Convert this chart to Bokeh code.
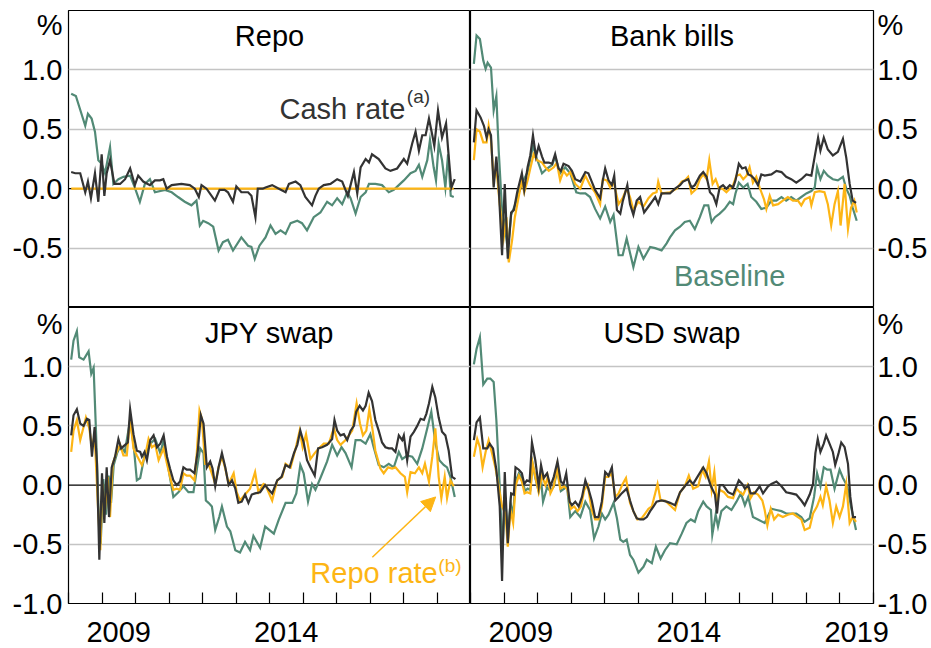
from bokeh.plotting import figure
from bokeh.layouts import gridplot
from bokeh.models import (Range1d, FixedTicker, NumeralTickFormatter, Label, Span,
                          Arrow, NormalHead)
from bokeh.embed import file_html
from bokeh.resources import INLINE

# ---------------- data (spread to benchmark, percentage points) ----------------
years_labels_left = {2009.5: "2009", 2014.5: "2014"}
years_labels_right = {2009.5: "2009", 2014.5: "2014", 2019.5: "2019"}
year_ticks = list(range(2008, 2021))
y_ticks_top = [-0.5, 0.0, 0.5, 1.0]
y_ticks_bottom = [-1.0, -0.5, 0.0, 0.5, 1.0]
grid_ticks = [-0.5, 0.5, 1.0]
titles = ["Repo", "Bank bills", "JPY swap", "USD swap"]

# Repo panel
repo_base = [(2008.08, 0.80), (2008.22, 0.78), (2008.50, 0.53), (2008.58, 0.63), (2008.69, 0.59),
             (2008.79, 0.48), (2008.89, 0.24), (2008.99, 0.21), (2009.09, 0.13), (2009.24, 0.35),
             (2009.34, 0.04), (2009.49, 0.08), (2009.64, 0.10), (2009.84, 0.11), (2009.98, 0.01),
             (2010.13, -0.11), (2010.28, 0.04), (2010.43, 0.08), (2010.58, -0.03), (2010.88, -0.01),
             (2011.08, -0.03), (2011.27, -0.07), (2011.47, -0.11), (2011.67, -0.14), (2011.82, -0.10),
             (2011.92, -0.31), (2012.02, -0.27), (2012.17, -0.29), (2012.32, -0.32), (2012.48, -0.52),
             (2012.61, -0.45), (2012.76, -0.43), (2012.91, -0.52), (2013.16, -0.41), (2013.36, -0.48),
             (2013.46, -0.49), (2013.56, -0.59), (2013.70, -0.48), (2013.88, -0.41), (2014.03, -0.31),
             (2014.18, -0.38), (2014.33, -0.35), (2014.48, -0.38), (2014.63, -0.29), (2014.83, -0.27),
             (2014.97, -0.29), (2015.12, -0.35), (2015.32, -0.24), (2015.52, -0.20), (2015.72, -0.11),
             (2015.87, -0.14), (2016.02, -0.08), (2016.17, -0.13), (2016.32, -0.03), (2016.42, -0.08),
             (2016.57, -0.21), (2016.72, -0.07), (2016.87, -0.03), (2016.97, 0.04), (2017.16, 0.04),
             (2017.36, 0.03), (2017.56, -0.03), (2017.71, -0.01), (2017.86, 0.03), (2018.01, 0.07),
             (2018.21, 0.13), (2018.36, 0.15), (2018.46, 0.20), (2018.56, 0.10), (2018.71, 0.24),
             (2018.79, 0.41), (2018.90, 0.18), (2018.97, 0.07), (2019.05, 0.38), (2019.15, 0.24),
             (2019.25, 0.01), (2019.33, 0.29), (2019.41, -0.06), (2019.50, -0.07)]
repo_repo = [(2008.08, 0.0), (2019.50, 0.0)]
repo_cash = [(2008.08, 0.14), (2008.20, 0.13), (2008.35, 0.13), (2008.50, -0.03), (2008.58, 0.06),
             (2008.67, -0.08), (2008.79, 0.13), (2008.89, -0.11), (2008.99, 0.29), (2009.07, -0.06),
             (2009.14, 0.13), (2009.24, 0.24), (2009.37, 0.04), (2009.54, 0.04), (2009.69, 0.08),
             (2009.84, 0.17), (2009.98, 0.03), (2010.08, 0.11), (2010.23, 0.06), (2010.43, 0.03),
             (2010.58, 0.07), (2010.73, 0.07), (2010.83, 0.08), (2010.93, 0.00), (2011.08, 0.03),
             (2011.37, 0.04), (2011.62, 0.03), (2011.77, 0.00), (2011.89, -0.07), (2011.97, 0.03),
             (2012.12, 0.00), (2012.37, -0.10), (2012.51, -0.01), (2012.66, -0.01), (2012.76, -0.03),
             (2012.91, -0.11), (2013.01, 0.02), (2013.16, -0.03), (2013.36, -0.03), (2013.46, -0.06),
             (2013.58, -0.24), (2013.65, 0.00), (2013.80, 0.00), (2013.88, 0.01), (2014.08, 0.03),
             (2014.28, 0.00), (2014.48, -0.03), (2014.58, 0.04), (2014.78, 0.06), (2014.92, 0.03),
             (2015.07, -0.07), (2015.27, -0.14), (2015.37, -0.06), (2015.47, 0.00), (2015.62, 0.03),
             (2015.82, 0.04), (2016.02, 0.08), (2016.17, 0.06), (2016.34, -0.06), (2016.42, 0.03),
             (2016.52, 0.14), (2016.62, -0.04), (2016.72, 0.18), (2016.87, 0.25), (2016.97, 0.22),
             (2017.06, 0.29), (2017.26, 0.25), (2017.46, 0.17), (2017.61, 0.15), (2017.81, 0.17),
             (2018.01, 0.25), (2018.11, 0.21), (2018.26, 0.38), (2018.36, 0.48), (2018.46, 0.32),
             (2018.56, 0.45), (2018.66, 0.45), (2018.76, 0.59), (2018.86, 0.45), (2018.92, 0.36),
             (2019.03, 0.66), (2019.15, 0.43), (2019.27, 0.55), (2019.35, 0.27), (2019.43, 0.01),
             (2019.53, 0.08)]

# Bank bills panel
bank_base = [(2008.10, 1.05), (2008.18, 1.29), (2008.28, 1.26), (2008.38, 1.08), (2008.45, 1.01),
             (2008.51, 1.06), (2008.61, 1.02), (2008.69, 0.66), (2008.77, 0.78), (2008.84, 0.32),
             (2008.94, -0.18), (2009.02, -0.30), (2009.11, -0.52), (2009.21, -0.22), (2009.32, -0.14),
             (2009.44, -0.03), (2009.56, 0.06), (2009.70, 0.14), (2009.86, 0.36), (2009.98, 0.25),
             (2010.13, 0.13), (2010.28, 0.17), (2010.43, 0.20), (2010.52, 0.27), (2010.67, 0.13),
             (2010.82, 0.18), (2010.97, 0.13), (2011.15, -0.03), (2011.27, -0.04), (2011.42, -0.04),
             (2011.56, -0.07), (2011.71, -0.17), (2011.86, -0.25), (2012.01, -0.15), (2012.16, -0.28),
             (2012.26, -0.22), (2012.41, -0.56), (2012.53, -0.56), (2012.65, -0.42), (2012.85, -0.66),
             (2013.00, -0.49), (2013.15, -0.59), (2013.35, -0.49), (2013.50, -0.50), (2013.69, -0.52),
             (2013.84, -0.46), (2013.94, -0.41), (2014.09, -0.35), (2014.24, -0.32), (2014.38, -0.28),
             (2014.53, -0.27), (2014.68, -0.34), (2014.83, -0.24), (2014.96, -0.14), (2015.08, -0.14),
             (2015.18, -0.28), (2015.28, -0.24), (2015.42, -0.21), (2015.57, -0.17), (2015.72, -0.11),
             (2015.82, -0.13), (2015.89, -0.04), (2015.99, 0.05), (2016.12, 0.01), (2016.25, 0.04),
             (2016.36, -0.07), (2016.51, -0.11), (2016.66, -0.17), (2016.81, -0.16), (2016.96, -0.10),
             (2017.11, -0.10), (2017.26, -0.07), (2017.40, -0.10), (2017.55, -0.07), (2017.70, -0.10),
             (2017.85, -0.07), (2018.00, -0.04), (2018.15, -0.02), (2018.25, 0.01), (2018.32, 0.18),
             (2018.42, 0.08), (2018.52, 0.15), (2018.64, 0.11), (2018.79, 0.08), (2018.94, 0.07),
             (2019.09, 0.10), (2019.19, 0.00), (2019.29, -0.06), (2019.38, -0.16), (2019.50, -0.27)]
bank_repo = [(2008.10, 0.24), (2008.18, 0.50), (2008.28, 0.48), (2008.38, 0.39), (2008.48, 0.39),
             (2008.54, 0.53), (2008.61, 0.41), (2008.69, 0.07), (2008.77, 0.18), (2008.87, -0.13),
             (2008.99, -0.41), (2009.07, -0.24), (2009.14, -0.62), (2009.24, -0.43), (2009.32, -0.24),
             (2009.44, -0.06), (2009.53, 0.07), (2009.60, -0.03), (2009.70, 0.07), (2009.78, 0.17),
             (2009.88, 0.29), (2009.98, 0.24), (2010.13, 0.22), (2010.23, 0.18), (2010.33, 0.15),
             (2010.48, 0.18), (2010.57, 0.22), (2010.67, 0.07), (2010.77, 0.15), (2010.87, 0.11),
             (2010.97, 0.14), (2011.12, 0.04), (2011.27, 0.00), (2011.42, 0.11), (2011.56, 0.03),
             (2011.71, -0.03), (2011.86, -0.13), (2011.94, 0.08), (2012.06, 0.07), (2012.16, 0.01),
             (2012.26, 0.06), (2012.41, -0.13), (2012.53, -0.08), (2012.65, 0.00), (2012.75, -0.07),
             (2012.85, -0.18), (2013.00, -0.11), (2013.15, -0.15), (2013.30, -0.08), (2013.43, -0.04),
             (2013.54, -0.03), (2013.59, 0.06), (2013.69, -0.04), (2013.94, -0.03), (2014.14, 0.00),
             (2014.29, 0.06), (2014.38, 0.07), (2014.48, 0.10), (2014.58, -0.04), (2014.73, 0.00),
             (2014.83, 0.08), (2014.93, 0.12), (2015.03, 0.08), (2015.11, 0.24), (2015.21, 0.04),
             (2015.30, 0.08), (2015.40, 0.00), (2015.50, 0.00), (2015.62, -0.03), (2015.72, 0.00),
             (2015.82, 0.03), (2015.92, 0.11), (2016.02, 0.12), (2016.12, 0.08), (2016.22, 0.11),
             (2016.31, 0.18), (2016.41, 0.05), (2016.51, 0.10), (2016.61, 0.01), (2016.74, -0.09),
             (2016.81, -0.17), (2016.91, -0.06), (2017.01, -0.14), (2017.16, -0.13), (2017.30, -0.10),
             (2017.45, -0.07), (2017.60, -0.10), (2017.75, -0.10), (2017.85, -0.14), (2017.95, -0.09),
             (2018.10, -0.07), (2018.15, -0.14), (2018.25, -0.03), (2018.39, -0.02), (2018.54, -0.03),
             (2018.64, -0.13), (2018.74, -0.31), (2018.84, -0.13), (2018.94, -0.02), (2019.02, -0.31),
             (2019.14, 0.04), (2019.24, -0.34), (2019.33, -0.16), (2019.43, -0.10), (2019.50, -0.20)]
bank_cash = [(2008.10, 0.39), (2008.18, 0.66), (2008.30, 0.60), (2008.40, 0.53), (2008.48, 0.43),
             (2008.54, 0.50), (2008.61, 0.45), (2008.69, 0.01), (2008.77, 0.27), (2008.84, 0.01),
             (2008.94, -0.56), (2009.02, 0.04), (2009.11, -0.59), (2009.21, -0.20), (2009.29, -0.18),
             (2009.39, -0.03), (2009.53, 0.13), (2009.60, -0.01), (2009.70, 0.18), (2009.78, 0.28),
             (2009.86, 0.45), (2009.95, 0.27), (2010.03, 0.36), (2010.13, 0.27), (2010.20, 0.22),
             (2010.33, 0.22), (2010.43, 0.21), (2010.52, 0.29), (2010.62, 0.17), (2010.69, 0.15),
             (2010.77, 0.21), (2010.92, 0.19), (2011.02, 0.15), (2011.12, 0.08), (2011.27, 0.06),
             (2011.42, 0.14), (2011.51, 0.13), (2011.61, 0.06), (2011.71, -0.01), (2011.86, -0.08),
             (2011.94, 0.07), (2012.01, 0.17), (2012.11, 0.07), (2012.21, 0.03), (2012.28, 0.11),
             (2012.36, -0.18), (2012.46, -0.21), (2012.53, -0.11), (2012.67, 0.03), (2012.75, -0.13),
             (2012.85, -0.22), (2012.95, -0.10), (2013.05, -0.07), (2013.17, -0.20), (2013.30, -0.15),
             (2013.40, -0.11), (2013.50, -0.07), (2013.59, -0.13), (2013.69, -0.04), (2013.94, -0.04),
             (2014.09, 0.00), (2014.24, 0.03), (2014.33, 0.06), (2014.48, 0.08), (2014.58, 0.01),
             (2014.68, 0.03), (2014.83, 0.11), (2014.93, 0.14), (2015.03, 0.10), (2015.13, -0.03),
             (2015.23, -0.06), (2015.32, -0.13), (2015.42, 0.01), (2015.52, 0.03), (2015.62, 0.00),
             (2015.72, 0.03), (2015.82, 0.01), (2015.89, 0.07), (2015.99, 0.21), (2016.09, 0.17),
             (2016.19, 0.18), (2016.27, 0.12), (2016.36, 0.11), (2016.46, 0.08), (2016.56, 0.03),
             (2016.66, 0.12), (2016.76, 0.11), (2016.96, 0.12), (2017.11, 0.15), (2017.26, 0.14),
             (2017.40, 0.10), (2017.55, 0.08), (2017.70, 0.05), (2017.85, 0.08), (2018.00, 0.12),
             (2018.15, 0.11), (2018.23, 0.24), (2018.35, 0.43), (2018.42, 0.32), (2018.52, 0.43),
             (2018.64, 0.33), (2018.79, 0.28), (2018.94, 0.31), (2019.09, 0.42), (2019.19, 0.26),
             (2019.29, 0.04), (2019.38, -0.10), (2019.48, -0.12)]

# JPY swap panel
jpy_base = [(2008.08, 1.06), (2008.15, 1.22), (2008.25, 1.30), (2008.32, 1.08), (2008.45, 1.06),
            (2008.60, 1.13), (2008.68, 0.94), (2008.75, 0.99), (2008.82, 0.46), (2008.90, -0.24),
            (2008.96, -0.50), (2009.04, 0.05), (2009.12, -0.25), (2009.20, 0.08), (2009.27, -0.15),
            (2009.35, 0.17), (2009.45, 0.27), (2009.55, 0.33), (2009.68, 0.28), (2009.84, 0.55),
            (2009.95, 0.32), (2010.04, 0.04), (2010.14, 0.06), (2010.27, 0.25), (2010.44, 0.35),
            (2010.59, 0.39), (2010.74, 0.27), (2010.84, 0.38), (2010.99, 0.13), (2011.13, -0.10),
            (2011.28, -0.06), (2011.43, -0.01), (2011.58, -0.06), (2011.73, -0.06), (2011.83, 0.13),
            (2011.93, 0.31), (2012.03, 0.27), (2012.10, -0.13), (2012.18, -0.15), (2012.28, -0.18),
            (2012.38, -0.38), (2012.50, -0.27), (2012.58, -0.18), (2012.73, -0.35), (2012.83, -0.39),
            (2012.98, -0.55), (2013.12, -0.57), (2013.27, -0.48), (2013.42, -0.55), (2013.52, -0.43),
            (2013.72, -0.53), (2013.87, -0.35), (2014.13, -0.41), (2014.28, -0.29), (2014.48, -0.15),
            (2014.68, -0.15), (2014.80, -0.07), (2014.92, 0.17), (2015.02, 0.10), (2015.15, -0.14),
            (2015.27, 0.01), (2015.37, -0.04), (2015.52, 0.06), (2015.72, 0.20), (2015.87, 0.34),
            (2016.02, 0.25), (2016.15, 0.32), (2016.27, 0.27), (2016.45, 0.15), (2016.57, 0.38),
            (2016.72, 0.38), (2016.87, 0.35), (2017.01, 0.43), (2017.11, 0.32), (2017.26, 0.17),
            (2017.41, 0.15), (2017.56, 0.18), (2017.71, 0.15), (2017.86, 0.28), (2017.96, 0.22),
            (2018.11, 0.25), (2018.26, 0.24), (2018.41, 0.18), (2018.56, 0.31), (2018.71, 0.48),
            (2018.83, 0.62), (2018.95, 0.36), (2019.07, 0.21), (2019.20, 0.17), (2019.30, 0.15),
            (2019.40, 0.07), (2019.53, -0.10)]
jpy_repo = [(2008.08, 0.28), (2008.15, 0.46), (2008.25, 0.55), (2008.35, 0.38), (2008.45, 0.49),
            (2008.52, 0.57), (2008.62, 0.48), (2008.70, 0.32), (2008.78, 0.42), (2008.88, -0.18),
            (2008.95, -0.55), (2009.01, 0.01), (2009.09, -0.21), (2009.17, 0.07), (2009.24, -0.27),
            (2009.32, 0.18), (2009.44, 0.28), (2009.54, 0.34), (2009.64, 0.25), (2009.74, 0.25),
            (2009.84, 0.56), (2009.94, 0.31), (2010.04, 0.25), (2010.19, 0.17), (2010.29, 0.25),
            (2010.39, 0.39), (2010.49, 0.32), (2010.59, 0.34), (2010.69, 0.21), (2010.84, 0.31),
            (2010.94, 0.18), (2011.03, 0.07), (2011.13, -0.04), (2011.23, -0.03), (2011.33, -0.04),
            (2011.43, 0.10), (2011.53, 0.08), (2011.63, 0.08), (2011.76, 0.04), (2011.83, 0.27),
            (2011.91, 0.63), (2011.98, 0.56), (2012.08, 0.18), (2012.18, 0.18), (2012.30, 0.08),
            (2012.38, 0.01), (2012.48, 0.15), (2012.58, 0.24), (2012.68, 0.14), (2012.78, 0.01),
            (2012.93, 0.10), (2013.02, -0.06), (2013.12, -0.13), (2013.27, -0.08), (2013.42, -0.03),
            (2013.57, 0.11), (2013.67, -0.06), (2013.82, 0.01), (2013.88, 0.00), (2014.08, -0.13),
            (2014.23, 0.04), (2014.38, 0.07), (2014.48, 0.18), (2014.63, 0.15), (2014.78, 0.31),
            (2014.90, 0.46), (2014.99, 0.32), (2015.09, 0.43), (2015.22, 0.22), (2015.35, 0.27),
            (2015.47, 0.31), (2015.62, 0.35), (2015.77, 0.35), (2015.92, 0.48), (2016.02, 0.38),
            (2016.12, 0.34), (2016.27, 0.38), (2016.37, 0.42), (2016.47, 0.46), (2016.60, 0.69),
            (2016.70, 0.52), (2016.79, 0.42), (2016.89, 0.46), (2016.98, 0.64), (2017.08, 0.46),
            (2017.16, 0.29), (2017.31, 0.14), (2017.41, 0.10), (2017.54, 0.15), (2017.66, 0.14),
            (2017.76, 0.15), (2017.91, 0.10), (2018.04, 0.07), (2018.11, -0.06), (2018.21, 0.11),
            (2018.34, 0.10), (2018.46, 0.15), (2018.56, 0.10), (2018.64, 0.18), (2018.76, 0.03),
            (2018.86, 0.24), (2018.95, 0.48), (2019.05, 0.07), (2019.13, -0.11), (2019.23, 0.07),
            (2019.30, -0.11), (2019.40, 0.04), (2019.50, -0.01)]
jpy_cash = [(2008.08, 0.42), (2008.15, 0.59), (2008.25, 0.64), (2008.35, 0.52), (2008.45, 0.50),
            (2008.55, 0.56), (2008.62, 0.55), (2008.70, 0.24), (2008.78, 0.49), (2008.85, 0.18),
            (2008.92, -0.63), (2009.00, 0.10), (2009.07, -0.32), (2009.14, 0.15), (2009.21, -0.27),
            (2009.29, 0.15), (2009.39, 0.24), (2009.49, 0.39), (2009.57, 0.31), (2009.69, 0.34),
            (2009.77, 0.36), (2009.84, 0.64), (2009.94, 0.43), (2010.04, 0.29), (2010.14, 0.28),
            (2010.19, 0.24), (2010.27, 0.28), (2010.34, 0.21), (2010.44, 0.38), (2010.54, 0.42),
            (2010.64, 0.32), (2010.74, 0.35), (2010.84, 0.42), (2010.94, 0.24), (2011.03, 0.14),
            (2011.13, 0.04), (2011.23, 0.00), (2011.33, 0.03), (2011.43, 0.15), (2011.53, 0.13),
            (2011.63, 0.13), (2011.76, 0.10), (2011.86, 0.29), (2011.95, 0.59), (2012.03, 0.52),
            (2012.13, 0.15), (2012.23, 0.20), (2012.30, 0.14), (2012.38, -0.01), (2012.48, 0.15),
            (2012.58, 0.27), (2012.68, 0.15), (2012.78, 0.00), (2012.88, 0.04), (2012.98, -0.03),
            (2013.07, -0.15), (2013.17, -0.14), (2013.27, -0.08), (2013.37, -0.15), (2013.47, -0.08),
            (2013.57, -0.07), (2013.72, -0.06), (2013.87, 0.00), (2013.98, -0.04), (2014.08, -0.07),
            (2014.23, 0.04), (2014.36, 0.07), (2014.48, 0.17), (2014.60, 0.15), (2014.73, 0.27),
            (2014.83, 0.34), (2014.92, 0.46), (2015.02, 0.36), (2015.12, 0.21), (2015.22, 0.15),
            (2015.35, 0.08), (2015.45, 0.31), (2015.57, 0.32), (2015.72, 0.34), (2015.87, 0.39),
            (2015.94, 0.55), (2016.02, 0.46), (2016.12, 0.42), (2016.22, 0.43), (2016.32, 0.38),
            (2016.42, 0.46), (2016.52, 0.50), (2016.59, 0.62), (2016.69, 0.67), (2016.79, 0.63),
            (2016.87, 0.67), (2016.96, 0.78), (2017.06, 0.71), (2017.16, 0.55), (2017.26, 0.46),
            (2017.36, 0.36), (2017.46, 0.32), (2017.56, 0.31), (2017.66, 0.31), (2017.76, 0.28),
            (2017.86, 0.42), (2017.96, 0.38), (2018.01, 0.42), (2018.11, 0.21), (2018.21, 0.41),
            (2018.31, 0.45), (2018.41, 0.50), (2018.51, 0.56), (2018.61, 0.55), (2018.68, 0.60),
            (2018.76, 0.69), (2018.86, 0.83), (2018.95, 0.74), (2019.05, 0.57), (2019.15, 0.45),
            (2019.25, 0.42), (2019.35, 0.29), (2019.45, 0.07), (2019.55, 0.05)]

# USD swap panel
usd_base = [(2008.10, 1.02), (2008.18, 1.15), (2008.28, 1.25), (2008.38, 0.85), (2008.50, 0.90),
            (2008.59, 0.90), (2008.69, 0.87), (2008.77, 0.55), (2008.87, -0.01), (2008.95, -0.55),
            (2009.03, -0.10), (2009.11, -0.42), (2009.19, -0.15), (2009.27, -0.25), (2009.34, 0.03),
            (2009.44, 0.10), (2009.54, 0.06), (2009.62, -0.05), (2009.70, -0.03), (2009.78, -0.04),
            (2009.85, 0.18), (2009.93, 0.06), (2010.03, -0.05), (2010.10, 0.05), (2010.16, -0.14),
            (2010.28, -0.02), (2010.38, -0.05), (2010.48, -0.01), (2010.59, 0.13), (2010.69, -0.05),
            (2010.79, -0.03), (2010.87, 0.00), (2010.97, -0.27), (2011.12, -0.22), (2011.27, -0.27),
            (2011.42, -0.14), (2011.56, -0.21), (2011.68, -0.45), (2011.81, -0.35), (2011.91, -0.24),
            (2012.01, -0.29), (2012.11, -0.25), (2012.26, -0.15), (2012.36, -0.28), (2012.46, -0.46),
            (2012.55, -0.48), (2012.65, -0.46), (2012.75, -0.59), (2012.85, -0.63), (2013.00, -0.74),
            (2013.15, -0.69), (2013.25, -0.63), (2013.40, -0.66), (2013.52, -0.52), (2013.66, -0.62),
            (2013.79, -0.55), (2013.94, -0.49), (2014.14, -0.50), (2014.29, -0.41), (2014.43, -0.32),
            (2014.56, -0.29), (2014.68, -0.31), (2014.78, -0.22), (2014.93, -0.14), (2015.03, -0.18),
            (2015.16, -0.21), (2015.20, -0.42), (2015.30, -0.25), (2015.37, -0.35), (2015.47, -0.22),
            (2015.62, -0.18), (2015.77, -0.21), (2015.92, -0.14), (2016.05, -0.07), (2016.17, -0.17),
            (2016.27, -0.10), (2016.41, -0.27), (2016.56, -0.29), (2016.76, -0.32), (2016.96, -0.20),
            (2017.11, -0.21), (2017.26, -0.22), (2017.40, -0.24), (2017.55, -0.24), (2017.70, -0.24),
            (2017.85, -0.27), (2017.95, -0.31), (2018.10, -0.28), (2018.23, -0.10), (2018.32, 0.10),
            (2018.42, -0.01), (2018.52, 0.15), (2018.62, 0.13), (2018.72, 0.13), (2018.84, -0.03),
            (2018.99, 0.13), (2019.09, 0.06), (2019.22, -0.01), (2019.33, -0.18), (2019.48, -0.38)]
usd_repo = [(2008.10, 0.24), (2008.20, 0.39), (2008.28, 0.32), (2008.36, 0.15), (2008.45, 0.28),
            (2008.54, 0.38), (2008.64, 0.27), (2008.74, 0.15), (2008.84, -0.01), (2008.94, -0.18),
            (2009.04, -0.24), (2009.11, -0.52), (2009.19, -0.21), (2009.27, -0.32), (2009.34, -0.01),
            (2009.44, 0.08), (2009.53, 0.03), (2009.61, -0.07), (2009.68, -0.06), (2009.78, -0.07),
            (2009.85, 0.18), (2009.93, 0.07), (2010.03, -0.06), (2010.13, 0.08), (2010.23, 0.00),
            (2010.30, 0.07), (2010.38, -0.07), (2010.48, -0.01), (2010.57, 0.15), (2010.67, -0.03),
            (2010.79, -0.01), (2010.89, -0.04), (2010.99, -0.20), (2011.09, -0.18), (2011.19, -0.22),
            (2011.29, -0.18), (2011.39, -0.04), (2011.49, 0.00), (2011.61, -0.21), (2011.71, -0.29),
            (2011.81, -0.29), (2011.91, -0.18), (2012.01, 0.07), (2012.11, 0.07), (2012.21, 0.10),
            (2012.31, -0.10), (2012.41, -0.07), (2012.53, 0.01), (2012.63, 0.06), (2012.75, -0.15),
            (2012.85, -0.22), (2012.97, -0.29), (2013.10, -0.28), (2013.20, -0.24), (2013.30, -0.20),
            (2013.40, -0.18), (2013.57, 0.01), (2013.66, -0.13), (2013.79, -0.13), (2013.94, -0.17),
            (2014.09, -0.21), (2014.24, -0.06), (2014.38, -0.01), (2014.50, 0.08), (2014.63, -0.03),
            (2014.78, -0.01), (2014.90, 0.13), (2015.00, 0.07), (2015.10, 0.20), (2015.18, -0.04),
            (2015.26, 0.11), (2015.34, -0.14), (2015.42, -0.04), (2015.55, -0.06), (2015.67, -0.10),
            (2015.82, -0.11), (2015.92, -0.03), (2016.02, -0.06), (2016.12, -0.08), (2016.25, 0.00),
            (2016.34, -0.11), (2016.44, -0.06), (2016.56, -0.08), (2016.69, -0.13), (2016.76, -0.21),
            (2016.84, -0.34), (2016.94, -0.20), (2017.04, -0.29), (2017.16, -0.25), (2017.30, -0.27),
            (2017.45, -0.25), (2017.60, -0.24), (2017.75, -0.27), (2017.85, -0.29), (2017.95, -0.38),
            (2018.10, -0.36), (2018.20, -0.24), (2018.32, -0.18), (2018.42, -0.10), (2018.49, -0.17),
            (2018.59, -0.01), (2018.69, -0.13), (2018.79, -0.32), (2018.89, -0.18), (2018.99, -0.27),
            (2019.09, -0.18), (2019.19, 0.01), (2019.29, -0.32), (2019.38, -0.27), (2019.48, -0.31)]
usd_cash = [(2008.10, 0.38), (2008.18, 0.53), (2008.28, 0.57), (2008.38, 0.31), (2008.50, 0.31),
            (2008.57, 0.35), (2008.67, 0.31), (2008.77, 0.13), (2008.87, -0.18), (2008.94, -0.81),
            (2009.02, 0.11), (2009.11, -0.49), (2009.21, -0.07), (2009.29, -0.08), (2009.34, 0.15),
            (2009.44, 0.13), (2009.53, 0.10), (2009.60, 0.01), (2009.68, 0.04), (2009.76, 0.03),
            (2009.83, 0.36), (2009.93, 0.21), (2010.03, -0.01), (2010.10, 0.17), (2010.18, 0.06),
            (2010.28, 0.10), (2010.38, -0.01), (2010.48, 0.07), (2010.59, 0.20), (2010.69, 0.03),
            (2010.77, 0.01), (2010.85, 0.10), (2010.95, -0.14), (2011.02, -0.17), (2011.12, -0.14),
            (2011.22, -0.18), (2011.32, -0.10), (2011.42, 0.04), (2011.51, -0.03), (2011.61, -0.13),
            (2011.71, -0.27), (2011.81, -0.27), (2011.91, -0.14), (2012.01, 0.11), (2012.11, 0.08),
            (2012.21, 0.15), (2012.31, -0.13), (2012.41, -0.10), (2012.50, -0.07), (2012.65, -0.03),
            (2012.75, -0.13), (2012.85, -0.22), (2012.95, -0.28), (2013.05, -0.29), (2013.15, -0.29),
            (2013.25, -0.27), (2013.35, -0.22), (2013.45, -0.18), (2013.54, -0.14), (2013.69, -0.13),
            (2013.84, -0.14), (2013.94, -0.15), (2014.09, -0.17), (2014.24, -0.06), (2014.38, -0.01),
            (2014.53, 0.04), (2014.63, 0.01), (2014.78, 0.08), (2014.93, 0.15), (2015.03, 0.10),
            (2015.16, -0.01), (2015.28, -0.08), (2015.34, -0.24), (2015.42, 0.00), (2015.52, 0.00),
            (2015.67, -0.06), (2015.82, -0.08), (2015.92, -0.01), (2015.99, 0.04), (2016.09, 0.01),
            (2016.17, -0.03), (2016.27, 0.00), (2016.34, -0.07), (2016.46, -0.07), (2016.61, -0.01),
            (2016.71, -0.07), (2016.86, -0.01), (2016.96, 0.01), (2017.11, 0.03), (2017.26, -0.01),
            (2017.40, -0.06), (2017.55, -0.07), (2017.70, -0.08), (2017.85, -0.13), (2017.95, -0.17),
            (2018.10, -0.08), (2018.20, 0.01), (2018.27, 0.27), (2018.34, 0.39), (2018.42, 0.28),
            (2018.52, 0.35), (2018.59, 0.42), (2018.69, 0.35), (2018.79, 0.28), (2018.86, 0.17),
            (2018.96, 0.27), (2019.04, 0.36), (2019.14, 0.32), (2019.24, 0.18), (2019.31, -0.10),
            (2019.39, -0.27), (2019.48, -0.27)]

series = [(repo_base, repo_repo, repo_cash), (bank_base, bank_repo, bank_cash),
          (jpy_base, jpy_repo, jpy_cash), (usd_base, usd_repo, usd_cash)]

# ---------------- styling ----------------
FONT = "Liberation Sans"
GREEN = "#528a76"
ORANGE = "#fdb515"
DARK = "#333333"
GRID = "#c4c4c4"
FS = "29px"


def make_panel(idx):
    left = idx in (0, 2)
    top = idx in (0, 1)
    kw = dict(output_backend="svg", toolbar_location=None,
              x_range=Range1d(2008, 2020), y_range=Range1d(-1.0, 1.5),
              y_axis_location="left" if left else "right",
              min_border=0)
    if left:
        kw.update(width=470, min_border_left=68, min_border_right=0)
    else:
        kw.update(width=460, min_border_left=0, min_border_right=56)
    if top:
        kw.update(height=307, min_border_top=10, min_border_bottom=0)
    else:
        kw.update(height=340, min_border_top=0, min_border_bottom=44)
    p = figure(**kw)
    p.outline_line_color = "black"
    p.outline_line_width = 1.2
    p.background_fill_color = "white"
    p.border_fill_color = "white"

    # y axis
    yt = (y_ticks_top if top else y_ticks_bottom) + [1.38]
    ya = p.yaxis[0]
    ya.ticker = FixedTicker(ticks=yt)
    ya.formatter = NumeralTickFormatter(format="0.0")
    ya.major_label_overrides = {1.38: "%"}
    ya.axis_line_color = None
    ya.major_tick_out = 0
    ya.major_tick_in = 0
    ya.minor_tick_out = 0
    ya.minor_tick_in = 0
    ya.major_label_standoff = 6 if left else 4
    ya.major_label_text_font = FONT
    ya.major_label_text_font_size = FS
    ya.major_label_text_color = "black"

    p.ygrid.ticker = FixedTicker(ticks=grid_ticks)
    p.ygrid.grid_line_color = GRID
    p.ygrid.grid_line_width = 1.5
    p.xgrid.visible = False

    # x axis
    xa = p.xaxis[0]
    if top:
        xa.visible = False
    else:
        labels = years_labels_left if left else years_labels_right
        xa.ticker = FixedTicker(ticks=list(labels.keys()), minor_ticks=year_ticks)
        xa.major_label_overrides = labels
        xa.axis_line_color = None
        xa.major_tick_in = 0
        xa.major_tick_out = 0
        xa.minor_tick_in = 11
        xa.minor_tick_out = 0
        xa.minor_tick_line_color = "black"
        xa.minor_tick_line_width = 1.2
        xa.major_label_standoff = 18
        xa.major_label_text_font = FONT
        xa.major_label_text_font_size = FS
        xa.major_label_text_color = "black"

    p.add_layout(Span(location=0, dimension="width", line_color="black",
                      line_width=1.2, level="underlay"))

    base, repo, cash = series[idx]
    for data, col in ((base, GREEN), (repo, ORANGE), (cash, DARK)):
        xs = [d[0] for d in data]
        ys = [d[1] for d in data]
        p.line(xs, ys, line_color=col, line_width=2.2, line_join="miter")

    p.add_layout(Label(x=2014, y=1.285, text=titles[idx], text_align="center",
                       text_baseline="alphabetic", text_font=FONT,
                       text_font_size=FS, text_color="black"))
    return p


panels = [make_panel(i) for i in range(4)]

# annotations
p0, p1, p2, p3 = panels
p0.add_layout(Label(x=2014.30, y=0.675, text="Cash rate", text_font=FONT,
                    text_font_size=FS, text_color=DARK, text_baseline="alphabetic"))
p0.add_layout(Label(x=2018.10, y=0.775, text="(a)", text_font=FONT,
                    text_font_size="19px", text_color=DARK, text_baseline="alphabetic"))
p1.add_layout(Label(x=2014.06, y=-0.735, text="Baseline", text_font=FONT,
                    text_font_size=FS, text_color=GREEN, text_baseline="alphabetic"))
p2.add_layout(Label(x=2015.22, y=-0.745, text="Repo rate", text_font=FONT,
                    text_font_size=FS, text_color=ORANGE, text_baseline="alphabetic"))
p2.add_layout(Label(x=2019.04, y=-0.675, text="(b)", text_font=FONT,
                    text_font_size="19px", text_color=ORANGE, text_baseline="alphabetic"))
p2.add_layout(Arrow(end=NormalHead(size=14, fill_color=ORANGE, line_color=ORANGE),
                    x_start=2017.07, y_start=-0.61, x_end=2018.96, y_end=-0.10,
                    line_color=ORANGE, line_width=1.5))

grid = gridplot([[p0, p1], [p2, p3]], toolbar_location=None)

open("out.html", "w").write(file_html(grid, INLINE))
